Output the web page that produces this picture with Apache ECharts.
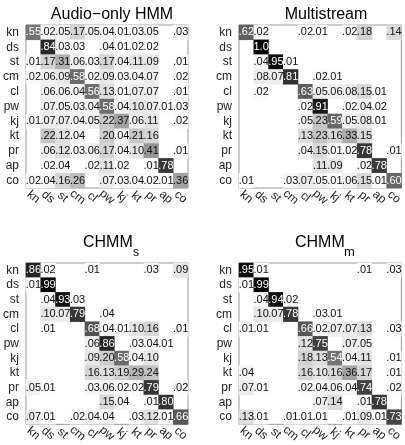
<!DOCTYPE html>
<html>
<head>
<meta charset="utf-8">
<script src="https://cdn.jsdelivr.net/npm/echarts@6/dist/echarts.min.js"></script>
<style>
  html, body { margin: 0; padding: 0; background: #fff; }
  #chart { width: 405px; height: 445px; }
</style>
</head>
<body>
<div id="chart"></div>
<script>
// class labels (rows = true, cols = recognised)
const cats = ["kn", "ds", "st", "cm", "cl", "pw", "kj", "kt", "pr", "ap", "co"];

const audioOnly = [
  [.55, .02, .05, .17, .05, .04, .01, .03, .05, 0, .03],
  [0, .84, .03, .03, 0, .04, .01, .02, .02, 0, 0],
  [.01, .17, .31, .06, .03, .17, .04, .11, .09, 0, .01],
  [.02, .06, .09, .58, .02, .09, .03, .04, .07, 0, .02],
  [0, .06, .06, .04, .56, .13, .01, .07, .07, 0, .01],
  [0, .07, .05, .03, .04, .58, .04, .10, .07, .01, .03],
  [.01, .07, .07, .04, .05, .22, .37, .06, .11, 0, .02],
  [0, .22, .12, .04, 0, .20, .04, .21, .16, 0, 0],
  [0, .06, .12, .03, .06, .17, .04, .10, .41, 0, .01],
  [0, .02, .04, 0, .02, .11, .02, 0, .01, .78, 0],
  [.02, .04, .16, .26, 0, .07, .03, .04, .02, .01, .36]
];

const multistream = [
  [.62, .02, 0, 0, .02, .01, 0, .02, .18, 0, .14],
  [0, 1.0, 0, 0, 0, 0, 0, 0, 0, 0, 0],
  [0, .04, .95, .01, 0, 0, 0, 0, 0, 0, 0],
  [0, .08, .07, .81, 0, .02, .01, 0, 0, 0, 0],
  [0, .02, 0, 0, .63, .05, .06, .08, .15, .01, 0],
  [0, 0, 0, 0, .02, .91, 0, .02, .04, .02, 0],
  [0, 0, 0, 0, .05, .23, .59, .05, .08, .01, 0],
  [0, 0, 0, 0, .13, .23, .16, .33, .15, 0, 0],
  [0, 0, 0, 0, .04, .15, .01, .02, .78, 0, .01],
  [0, 0, 0, 0, 0, .11, .09, 0, .02, .78, 0],
  [.01, 0, 0, .03, .07, .05, .01, .06, .15, .01, .60]
];

const chmmS = [
  [.86, .02, 0, 0, .01, 0, 0, 0, .03, 0, .09],
  [.01, .99, 0, 0, 0, 0, 0, 0, 0, 0, 0],
  [0, .04, .93, .03, 0, 0, 0, 0, 0, 0, 0],
  [0, .10, .07, .79, 0, .04, 0, 0, 0, 0, 0],
  [0, .01, 0, 0, .68, .04, .01, .10, .16, 0, .01],
  [0, 0, 0, 0, .06, .86, 0, .03, .04, .01, 0],
  [0, 0, 0, 0, .09, .20, .58, .04, .10, 0, 0],
  [0, 0, 0, 0, .16, .13, .19, .29, .24, 0, 0],
  [.05, .01, 0, 0, .03, .06, .02, .02, .79, 0, .02],
  [0, 0, 0, 0, 0, .15, .04, 0, .01, .80, 0],
  [.07, .01, 0, .02, .04, .04, 0, .03, .12, .01, .66]
];

const chmmM = [
  [.95, .01, 0, 0, 0, 0, 0, 0, .01, 0, .03],
  [.01, .99, 0, 0, 0, 0, 0, 0, 0, 0, 0],
  [0, .04, .94, .02, 0, 0, 0, 0, 0, 0, 0],
  [0, .10, .07, .78, 0, .03, .01, 0, 0, 0, 0],
  [.01, .01, 0, 0, .66, .02, .07, .07, .13, 0, .03],
  [0, 0, 0, 0, .12, .75, 0, .07, .05, 0, 0],
  [0, 0, 0, 0, .18, .13, .54, .04, .11, 0, .01],
  [.04, 0, 0, 0, .16, .10, .16, .36, .17, 0, .01],
  [.07, .01, 0, 0, .02, .04, .06, .04, .74, 0, .02],
  [0, 0, 0, 0, 0, .07, .14, 0, .01, .78, 0],
  [.13, .01, 0, .01, .01, .01, 0, .01, .09, .01, .73]
];

const matrices = [audioOnly, multistream, chmmS, chmmM];
const grids = [
  { left: 25, top: 25, width: 163, height: 163 },
  { left: 239, top: 25, width: 163, height: 163 },
  { left: 25, top: 263, width: 163, height: 162 },
  { left: 239, top: 263, width: 163, height: 162 }
];

const fmt = v => (v >= 1 ? "1.0" : v.toFixed(2).slice(1));

function cells(m) {
  const out = [];
  m.forEach((row, y) => row.forEach((v, x) => {
    if (!v) return;
    out.push({ value: [x, y, v], label: { color: v > 0.5 ? "#fff" : "#111" } });
  }));
  return out;
}

const font = "Liberation Sans, Arial, Helvetica, sans-serif";
const chart = echarts.init(document.getElementById("chart"), null, { renderer: "canvas" });

chart.setOption({
  animation: false,
  textStyle: { fontFamily: font },
  title: [
    { text: "Audio\u2212only HMM", left: 107, top: 2, textAlign: "center",
      textStyle: { fontSize: 16, fontWeight: "normal", color: "#000" } },
    { text: "Multistream", left: 321, top: 2, textAlign: "center",
      textStyle: { fontSize: 16, fontWeight: "normal", color: "#000" } },
    { text: "CHMM", left: 78, top: 230, textStyle: { fontSize: 16, fontWeight: "normal", color: "#000" } },
    { text: "s", left: 128, top: 242, textStyle: { fontSize: 12, fontWeight: "normal", color: "#000" } },
    { text: "CHMM", left: 290, top: 230, textStyle: { fontSize: 16, fontWeight: "normal", color: "#000" } },
    { text: "m", left: 339, top: 241, textStyle: { fontSize: 13, fontWeight: "normal", color: "#000" } }
  ],
  grid: grids.map(g => ({ ...g, show: true, borderColor: "#999", borderWidth: 1, backgroundColor: "#fff" })),
  xAxis: grids.map((g, i) => ({
    type: "category", gridIndex: i, data: cats,
    axisLine: { show: false }, axisTick: { show: false }, splitLine: { show: false },
    axisLabel: { interval: 0, rotate: -40, align: "center", verticalAlign: "middle",
      margin: 9, fontSize: 12, color: "#222" }
  })),
  yAxis: grids.map((g, i) => ({
    type: "category", gridIndex: i, data: cats, inverse: true,
    axisLine: { show: false }, axisTick: { show: false }, splitLine: { show: false },
    axisLabel: { interval: 0, margin: 7, fontSize: 12, color: "#222" }
  })),
  visualMap: {
    show: false, min: 0, max: 1, dimension: 2, seriesIndex: [0, 1, 2, 3],
    inRange: { color: ["#ffffff", "#000000"] }
  },
  series: matrices.map((m, i) => ({
    type: "heatmap", xAxisIndex: i, yAxisIndex: i,
    data: cells(m),
    label: { show: true, fontSize: 11, formatter: p => fmt(p.value[2]) },
    emphasis: { disabled: true }
  }))
});
</script>
</body>
</html>
